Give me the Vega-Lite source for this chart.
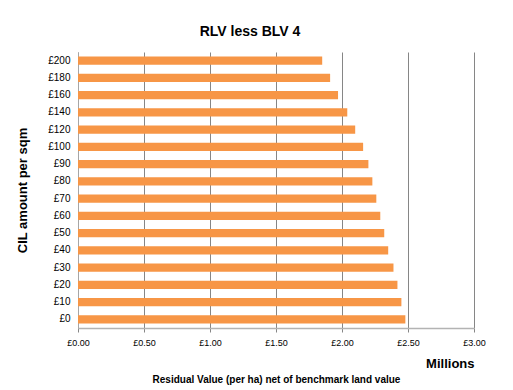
{
  "$schema": "https://vega.github.io/schema/vega-lite/v6.json",
  "autosize": {"type": "none"},
  "padding": {"left": 78, "top": 52, "right": 39, "bottom": 62},
  "width": 396,
  "height": 276,
  "background": "white",
  "title": {
    "text": "RLV less BLV 4",
    "font": "Liberation Sans",
    "fontSize": 14,
    "fontWeight": "bold",
    "color": "#000000",
    "anchor": "middle",
    "baseline": "alphabetic",
    "offset": 16,
    "dx": -26,
    "dy": 14
  },
  "data": {
    "values": [
      {"cil": "£0", "value": 2.48},
      {"cil": "£10", "value": 2.45},
      {"cil": "£20", "value": 2.42},
      {"cil": "£30", "value": 2.39},
      {"cil": "£40", "value": 2.35},
      {"cil": "£50", "value": 2.32},
      {"cil": "£60", "value": 2.29},
      {"cil": "£70", "value": 2.26},
      {"cil": "£80", "value": 2.23},
      {"cil": "£90", "value": 2.2},
      {"cil": "£100", "value": 2.16},
      {"cil": "£120", "value": 2.1},
      {"cil": "£140", "value": 2.04},
      {"cil": "£160", "value": 1.97},
      {"cil": "£180", "value": 1.91},
      {"cil": "£200", "value": 1.85}
    ]
  },
  "encoding": {
    "y": {
      "field": "cil",
      "type": "nominal",
      "sort": ["£200", "£180", "£160", "£140", "£120", "£100", "£90", "£80", "£70", "£60", "£50", "£40", "£30", "£20", "£10", "£0"],
      "scale": {"paddingInner": 0.535, "paddingOuter": 0.2675},
      "axis": {
        "title": "CIL amount per sqm",
        "titleFont": "Liberation Sans",
        "titleFontSize": 13,
        "titleFontWeight": "bold",
        "titleColor": "#000000",
        "titlePadding": 18,
        "labelFont": "Liberation Sans",
        "labelFontSize": 10,
        "labelColor": "#000000",
        "labelPadding": 8,
        "ticks": false,
        "grid": false,
        "domainColor": "#a6a6a6",
        "domainWidth": 1
      }
    }
  },
  "layer": [
    {
      "mark": {"type": "bar", "color": "#F79646"},
      "encoding": {
        "x": {
          "field": "value",
          "type": "quantitative",
          "scale": {"domain": [0, 3], "nice": false},
          "axis": {
            "title": "Millions",
            "titleAnchor": "end",
            "titleFont": "Liberation Sans",
            "titleFontSize": 13,
            "titleFontWeight": "bold",
            "titleColor": "#000000",
            "titlePadding": 10,
            "titleDx": -2,
            "values": [0, 0.5, 1, 1.5, 2, 2.5, 3],
            "labelExpr": "'£' + format(datum.value, '.2f')",
            "labelFont": "Liberation Sans",
            "labelFontSize": 9,
            "labelColor": "#000000",
            "labelPadding": 6,
            "labelFlush": false,
            "tickSize": 4,
            "tickColor": "#868686",
            "grid": true,
            "gridColor": "#868686",
            "gridWidth": 1,
            "domainColor": "#b3b3b3",
            "domainWidth": 1.5
          }
        }
      }
    },
    {
      "mark": {"type": "tick", "opacity": 0},
      "encoding": {
        "x": {
          "field": "value",
          "type": "quantitative",
          "scale": {"domain": [0, 3], "nice": false},
          "axis": {
            "orient": "bottom",
            "offset": 46,
            "title": "Residual Value (per ha) net of benchmark land value",
            "titleFont": "Liberation Sans",
            "titleFontSize": 10,
            "titleFontWeight": "bold",
            "titleColor": "#000000",
            "titlePadding": 0,
            "titleDx": -10,
            "labels": false,
            "ticks": false,
            "domain": false,
            "grid": false
          }
        }
      }
    }
  ],
  "resolve": {"scale": {"x": "independent"}, "axis": {"x": "independent"}},
  "config": {"view": {"stroke": null}}
}
